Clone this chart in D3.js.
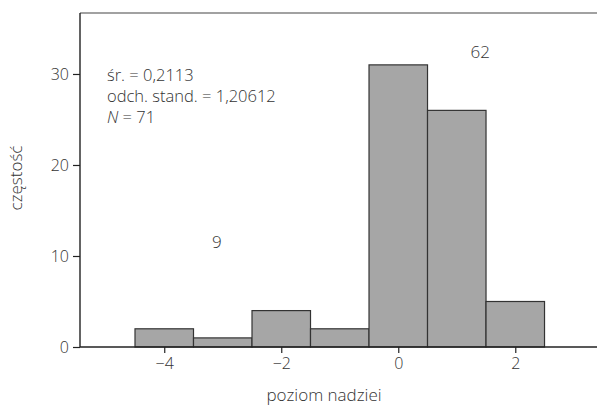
<!DOCTYPE html>
<html><head><meta charset="utf-8">
<script src="https://cdn.jsdelivr.net/npm/d3@7"></script>
<style>
body{margin:0;background:#fff;}
text{font-family:"Open Sans",sans-serif;font-weight:300;fill:#333;}
</style></head><body>
<svg id="c" width="597" height="405"></svg>
<script>
const binCenters = [-4, -3, -2, -1, 0, 1, 2];
const counts = [2, 1, 4, 2, 31, 26, 5];
const xTicks = [-4, -2, 0, 2];
const yTicks = [0, 10, 20, 30];
const statsLines = ["śr. = 0,2113", "odch. stand. = 1,20612", "N = 71"];
const annotations = [{x: -3.1, y: 10.9, t: "9"}, {x: 1.4, y: 31.8, t: "62"}];

const svg = d3.select("#c");
const L = 80, R = 620, T = 13, B = 347;
const x = d3.scaleLinear().domain([-5.44, 3.79]).range([L, R]);
const y = d3.scaleLinear().domain([0, 36.7]).range([B, T]);

// bars
svg.append("g").selectAll("rect").data(binCenters).join("rect")
  .attr("x", (d) => x(d - 0.5))
  .attr("width", (d) => x(d + 0.5) - x(d - 0.5))
  .attr("y", (d, i) => y(counts[i]))
  .attr("height", (d, i) => y(0) - y(counts[i]))
  .attr("fill", "#a6a6a6").attr("stroke", "#333").attr("stroke-width", 1.2);

// top frame line
svg.append("line").attr("x1", L).attr("x2", 597).attr("y1", T).attr("y2", T)
  .attr("stroke", "#444").attr("stroke-width", 1.2);

const xa = svg.append("g").attr("transform", `translate(0,${B})`)
  .call(d3.axisBottom(x).tickValues(xTicks).tickSize(6).tickPadding(5)
    .tickFormat(d => d < 0 ? "\u2212" + Math.abs(d) : d));
const ya = svg.append("g").attr("transform", `translate(${L},0)`)
  .call(d3.axisLeft(y).tickValues(yTicks).tickSize(7).tickPadding(4));
[xa, ya].forEach(a => {
  a.select(".domain").attr("stroke", "#222").attr("stroke-width", 1.4);
  a.selectAll(".tick line").attr("stroke", "#222").attr("stroke-width", 1.2);
  a.selectAll(".tick text").style("font-size", "16px").attr("fill", "#333");
});
xa.select(".domain").attr("d", `M${L},0H597`);
ya.select(".domain").attr("d", `M0,${T}V${B}`);

// stats
const st = svg.append("text").attr("x", 107).attr("y", 81).style("font-size", "16.5px");
statsLines.forEach((s, i) => {
  const ts = st.append("tspan").attr("x", 107).attr("dy", i === 0 ? 0 : 21);
  if (s.startsWith("N")) {
    ts.append("tspan").style("font-style", "italic").text("N");
    ts.append("tspan").text(s.slice(1));
  } else ts.text(s);
});

svg.selectAll("text.ann").data(annotations).join("text").attr("class", "ann")
  .attr("x", d => x(d.x)).attr("y", d => y(d.y)).attr("text-anchor", "middle")
  .style("font-size", "17px").text(d => d.t);

svg.append("text").attr("transform", "translate(22,178) rotate(-90)")
  .attr("text-anchor", "middle").style("font-size", "17px").text("częstość");
svg.append("text").attr("x", 324).attr("y", 401)
  .attr("text-anchor", "middle").style("font-size", "17px").text("poziom nadziei");
</script></body></html>
